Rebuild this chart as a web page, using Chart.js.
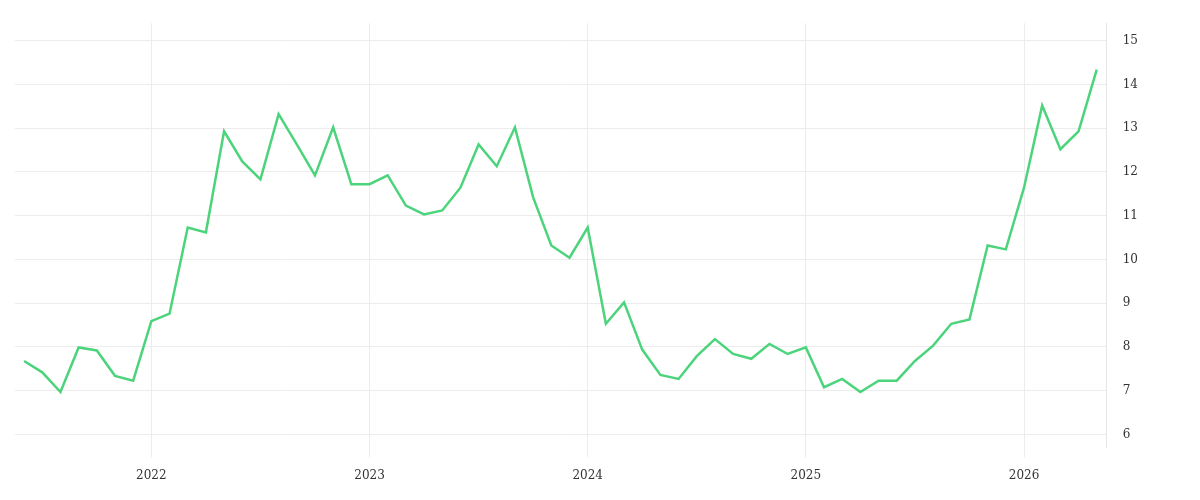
<!DOCTYPE html>
<html>
<head>
<meta charset="utf-8">
<script src="https://cdn.jsdelivr.net/npm/chart.js@4"></script>
<style>
  html, body { margin: 0; padding: 0; background: #fff; }
  #wrap { width: 1200px; height: 500px; }
</style>
</head>
<body>
<div id="wrap"><canvas id="chart"></canvas></div>
<script>
// Monthly values, Jun 2021 .. May 2026
const values = [
    7.68, 7.42, 6.97, 7.99, 7.92, 7.34, 7.23,
    8.59, 8.76, 10.73, 10.62, 12.93, 12.24, 11.83, 13.32, 12.63, 11.92, 13.02, 11.72,
    11.72, 11.92, 11.23, 11.03, 11.12, 11.64, 12.63, 12.13, 13.02, 11.42, 10.32, 10.04,
    10.73, 8.53, 9.02, 7.94, 7.36, 7.27, 7.79, 8.18, 7.84, 7.73, 8.07, 7.84,
    7.99, 7.08, 7.27, 6.97, 7.23, 7.23, 7.68, 8.03, 8.53, 8.63, 10.32, 10.23,
    11.64, 13.52, 12.52, 12.93, 14.34
];
// index of each January in the series
const yearTicks = [7, 19, 31, 43, 55];
const yearLabels = ['2022', '2023', '2024', '2025', '2026'];

const points = values.map((v, i) => ({ x: i, y: v }));

new Chart(document.getElementById('chart'), {
    type: 'line',
    data: {
        datasets: [{
            data: points,
            borderColor: '#4cd47c',
            borderWidth: 2.5,
            pointRadius: 0,
            tension: 0,
            fill: false
        }]
    },
    options: {
        responsive: true,
        maintainAspectRatio: false,
        animation: false,
        layout: { padding: { left: 15, right: 46, top: 4, bottom: 6 } },
        plugins: { legend: { display: false }, tooltip: { enabled: false } },
        scales: {
            x: {
                type: 'linear',
                min: -0.5,
                max: 59.55,
                afterBuildTicks: axis => {
                    axis.ticks = yearTicks.map(v => ({ value: v }));
                },
                ticks: {
                    autoSkip: false,
                    maxRotation: 0,
                    padding: 11,
                    color: '#333',
                    font: { family: 'DejaVu Serif', size: 12 },
                    callback: v => yearLabels[yearTicks.indexOf(v)] || ''
                },
                grid: { color: '#ececec', tickLength: 10 },
                border: { display: false }
            },
            y: {
                position: 'right',
                min: 5.7,
                max: 15.4,
                afterBuildTicks: axis => {
                    const t = [];
                    for (let v = 6; v <= 15; v++) t.push({ value: v });
                    axis.ticks = t;
                },
                ticks: {
                    padding: 16,
                    color: '#333',
                    font: { family: 'DejaVu Serif', size: 12 }
                },
                grid: { color: '#ececec', drawTicks: false },
                border: { display: true, color: '#e6e6e6' }
            }
        }
    }
});
</script>
</body>
</html>
